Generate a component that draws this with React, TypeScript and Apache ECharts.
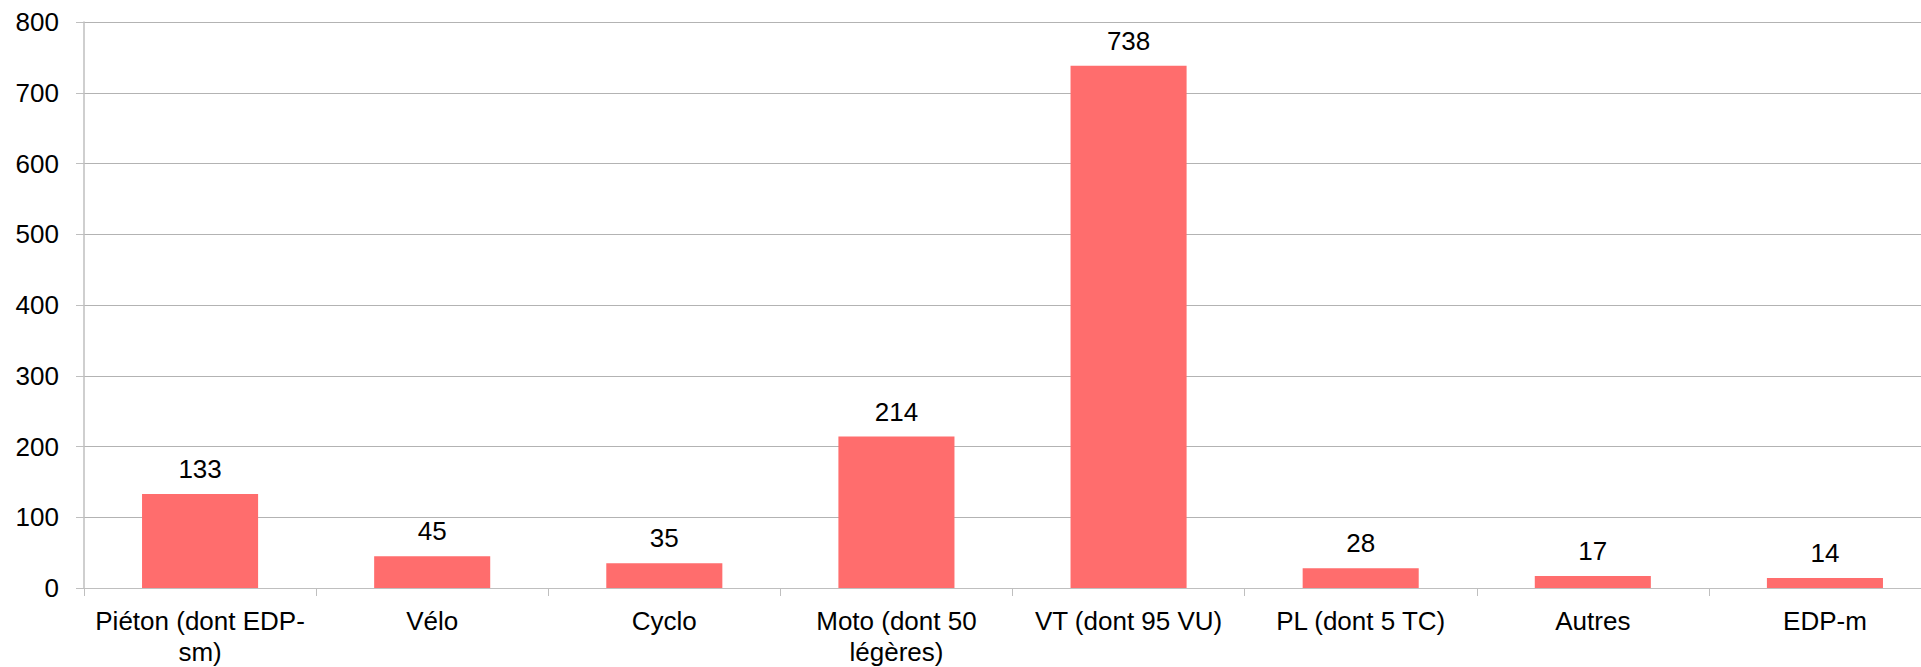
import React, { useEffect, useRef } from "react";
import * as echarts from "echarts";

const categories = [
  "Piéton (dont EDP-\nsm)",
  "Vélo",
  "Cyclo",
  "Moto (dont 50\nlégères)",
  "VT (dont 95 VU)",
  "PL (dont 5 TC)",
  "Autres",
  "EDP-m",
];
const values = [133, 45, 35, 214, 738, 28, 17, 14];
const yMin = 0;
const yMax = 800;
const yInterval = 100;

export default function App() {
  const ref = useRef<HTMLDivElement>(null);
  useEffect(() => {
    if (!ref.current) return;
    const chart = echarts.init(ref.current, undefined, { renderer: "svg" });
    const font = "'Liberation Sans', Arial, sans-serif";
    chart.setOption({
      animation: false,
      backgroundColor: "#ffffff",
      grid: { left: 84, top: 22, bottom: 77, right: 0, containLabel: false },
      xAxis: {
        type: "category",
        data: categories,
        axisLine: { show: true, lineStyle: { color: "#bfbfbf", width: 1 } },
        axisTick: { show: true, length: 8, lineStyle: { color: "#bfbfbf" } },
        axisLabel: {
          interval: 0,
          color: "#000",
          fontFamily: font,
          fontSize: 26,
          lineHeight: 31,
          margin: 17,
        },
      },
      yAxis: {
        type: "value",
        min: yMin,
        max: yMax,
        interval: yInterval,
        axisLine: { show: true, lineStyle: { color: "#bfbfbf", width: 1.5 } },
        axisTick: { show: true, length: 8, lineStyle: { color: "#bfbfbf" } },
        splitLine: { show: true, lineStyle: { color: "#b3b3b3", width: 1 } },
        axisLabel: {
          color: "#000",
          fontFamily: font,
          fontSize: 26,
          margin: 25,
        },
      },
      series: [
        {
          type: "bar",
          data: values,
          barWidth: "50%",
          itemStyle: { color: "#ff6d6d" },
          label: {
            show: true,
            position: "top",
            distance: 12,
            color: "#000",
            fontFamily: font,
            fontSize: 26,
          },
        },
      ],
    });
    return () => chart.dispose();
  }, []);
  return (
    <div
      style={{ position: "absolute", left: 0, top: 0, width: 1921, height: 667, overflow: "hidden", background: "#fff" }}
    >
      <div ref={ref} style={{ position: "absolute", left: 0, top: 0, width: 1941, height: 667 }} />
    </div>
  );
}
